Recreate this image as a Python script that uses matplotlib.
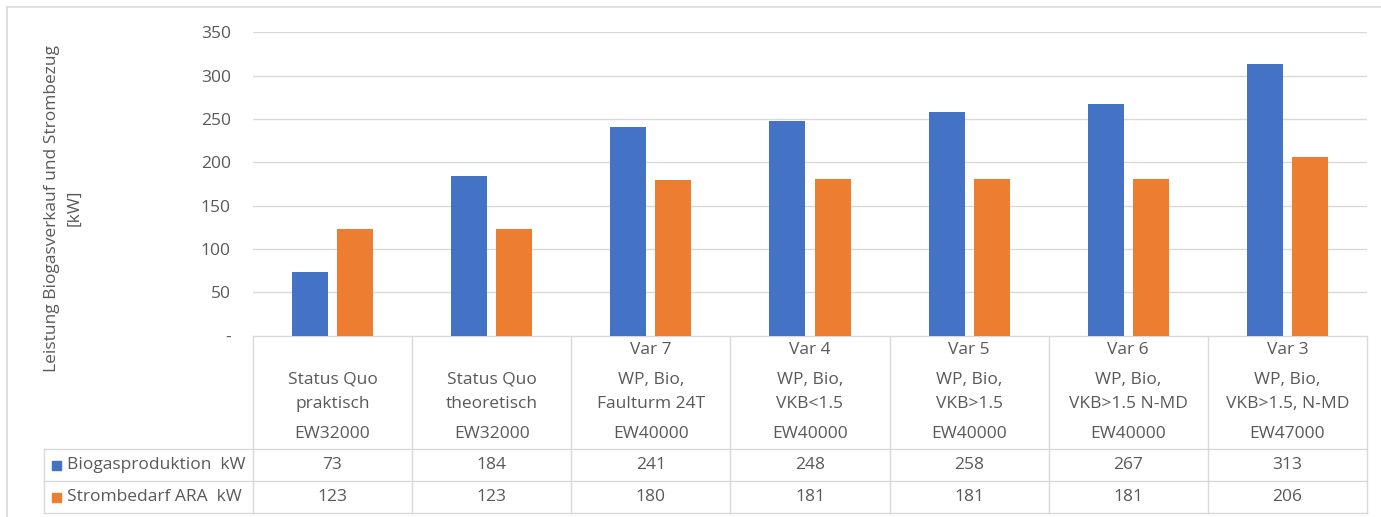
import matplotlib
matplotlib.use("Agg")
import matplotlib.pyplot as plt
from matplotlib.patches import Rectangle
from matplotlib.lines import Line2D

# ---- data ----
cat_line1 = ["", "", "Var 7", "Var 4", "Var 5", "Var 6", "Var 3"]
cat_line2 = ["Status Quo", "Status Quo", "WP, Bio,", "WP, Bio,", "WP, Bio,", "WP, Bio,", "WP, Bio,"]
cat_line3 = ["praktisch", "theoretisch", "Faulturm 24T", "VKB<1.5", "VKB>1.5", "VKB>1.5 N-MD", "VKB>1.5, N-MD"]
cat_line4 = ["EW32000", "EW32000", "EW40000", "EW40000", "EW40000", "EW40000", "EW47000"]
series_names = ["Biogasproduktion  kW", "Strombedarf ARA  kW"]
biogas = [73, 184, 241, 248, 258, 267, 313]
strom = [123, 123, 180, 181, 181, 181, 206]
y_ticks = [0, 50, 100, 150, 200, 250, 300, 350]
y_ticklabels = ["-", "50", "100", "150", "200", "250", "300", "350"]
y_label = "Leistung Biogasverkauf und Strombezug\n[kW]"

BLUE = "#4472C4"
ORANGE = "#ED7D31"
GRID = "#D9D9D9"
TXT = "#595959"
FONT = "Open Sans"
FS = 12.5

W, H = 1381, 517
fig = plt.figure(figsize=(W / 100, H / 100), dpi=100)
plt.rcParams["font.family"] = [FONT, "DejaVu Sans"]

# plot area in pixels
L, R, T, B = 253, 1367, 32.4, 335.5
ax = fig.add_axes([L / W, 1 - B / H, (R - L) / W, (B - T) / H])
n = len(biogas)
xs = list(range(n))
bw = 0.226
off = 0.1415
ax.bar([x - off for x in xs], biogas, width=bw, color=BLUE, zorder=3)
ax.bar([x + off for x in xs], strom, width=bw, color=ORANGE, zorder=3)
ax.set_xlim(-0.5, n - 0.5)
ax.set_ylim(0, 350)
ax.set_yticks(y_ticks)
ax.set_yticklabels(y_ticklabels, color=TXT, fontsize=FS)
ax.tick_params(axis="y", length=0, pad=16)
ax.set_xticks([])
for s in ax.spines.values():
    s.set_visible(False)
ax.yaxis.grid(True, color=GRID, linewidth=1.0, zorder=0)
ax.set_axisbelow(True)

# overlay in pixel coords for table + frame
ov = fig.add_axes([0, 0, 1, 1], zorder=-1)
ov.set_xlim(0, W)
ov.set_ylim(H, 0)
ov.axis("off")

lw = 1.0
# outer frame
ov.add_line(Line2D([7, W], [7, 7], color=GRID, lw=1.2))
ov.add_line(Line2D([7, 7], [7, H], color=GRID, lw=1.2))

colw = (R - L) / n
row_top, row1, row2, row_bot = 335.5, 449, 481, 513
leg_left = 44
# horizontal lines
ov.add_line(Line2D([L, R], [row_top, row_top], color=GRID, lw=lw))
for yy in (row1, row2, row_bot):
    ov.add_line(Line2D([leg_left, R], [yy, yy], color=GRID, lw=lw))
# vertical lines
for i in range(n + 1):
    xx = L + i * colw
    ov.add_line(Line2D([xx, xx], [row_top, row_bot], color=GRID, lw=lw))
ov.add_line(Line2D([leg_left, leg_left], [row1, row_bot], color=GRID, lw=lw))

# header text
for i in range(n):
    cx = L + (i + 0.5) * colw
    for txt, yy in ((cat_line1[i], 350), (cat_line2[i], 380), (cat_line3[i], 404), (cat_line4[i], 434)):
        if txt:
            ov.text(cx, yy, txt, ha="center", va="center", color=TXT, fontsize=FS)
    ov.text(cx, (row1 + row2) / 2, str(biogas[i]), ha="center", va="center", color=TXT, fontsize=FS)
    ov.text(cx, (row2 + row_bot) / 2, str(strom[i]), ha="center", va="center", color=TXT, fontsize=FS)

# legend cells
for name, col, (y0, y1) in ((series_names[0], BLUE, (row1, row2)), (series_names[1], ORANGE, (row2, row_bot))):
    yc = (y0 + y1) / 2
    ov.add_patch(Rectangle((52, yc - 4.5), 9, 9, color=col))
    ov.text(67, yc, name, ha="left", va="center", color=TXT, fontsize=FS)

# y label
ov.text(63, 208, y_label, rotation=90, ha="center", va="center", color=TXT,
        fontsize=FS, multialignment="center", linespacing=1.5)

fig.savefig("out.png", dpi=100)
